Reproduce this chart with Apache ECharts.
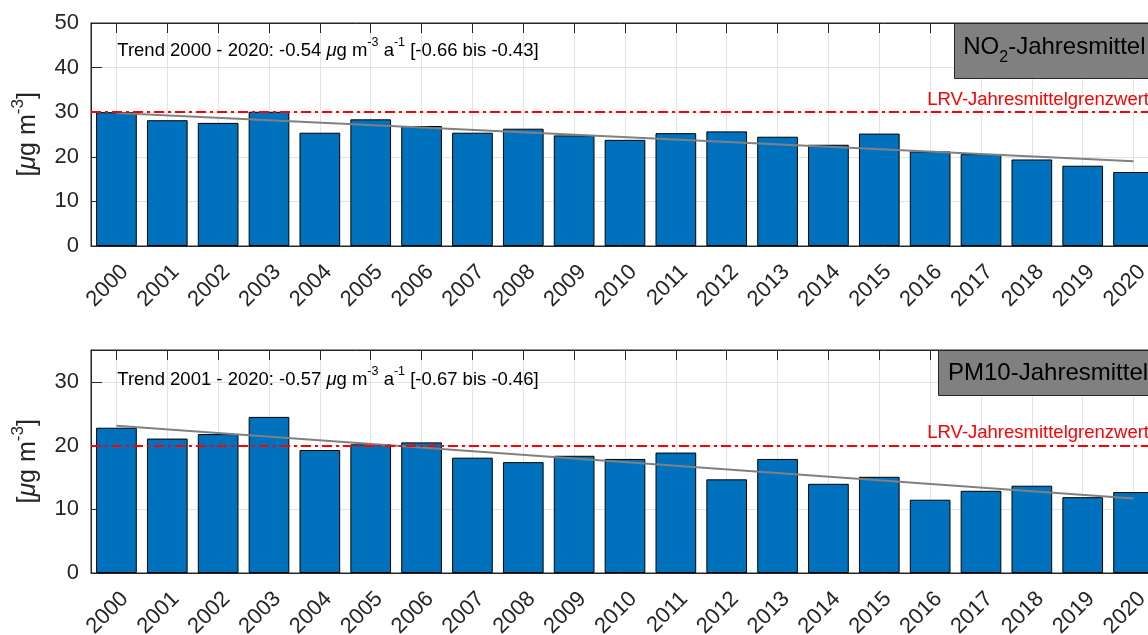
<!DOCTYPE html>
<html>
<head>
<meta charset="utf-8">
<script src="https://cdn.jsdelivr.net/npm/echarts@6/dist/echarts.min.js"></script>
<style>html,body{margin:0;padding:0;background:#fff}#c{width:1148px;height:635px}</style>
</head>
<body>
<div id="c"></div>
<script>
const years = ['2000','2001','2002','2003','2004','2005','2006','2007','2008','2009','2010','2011','2012','2013','2014','2015','2016','2017','2018','2019','2020'];
const no2Values = [30.0, 28.2, 27.6, 30.1, 25.4, 28.4, 26.9, 25.4, 26.3, 24.8, 23.8, 25.3, 25.7, 24.5, 22.7, 25.2, 21.2, 20.6, 19.4, 18.0, 16.6];
const pm10Values = [22.8, 21.1, 21.8, 24.5, 19.3, 20.2, 20.5, 18.1, 17.4, 18.4, 17.9, 18.9, 14.7, 17.9, 14.0, 15.1, 11.5, 12.9, 13.7, 11.9, 12.7];
const no2Trend = [['2000', 29.8], ['2020', 19.0]];
const pm10Trend = [['2000', 23.1], ['2020', 11.7]];
const no2Limit = 30;
const pm10Limit = 20;
const no2YTicks = {min: 0, max: 50, interval: 10};
const pm10YTicks = {min: 0, max: 35, interval: 10};
const limitLabel = 'LRV-Jahresmittelgrenzwert';
const no2TrendText = ['Trend 2000 - 2020: -0.54 ', ' [-0.66 bis -0.43]'];
const pm10TrendText = ['Trend 2001 - 2020: -0.57 ', ' [-0.67 bis -0.46]'];

const FONT = '"Liberation Sans", Arial, Helvetica, sans-serif';
const AX = '#262626';
const GRIDC = '#e3e3e3';

const chart = echarts.init(document.getElementById('c'), null, {renderer: 'canvas'});

const grids = [
  {left: 91, top: 23, width: 1068, height: 223},
  {left: 91, top: 350, width: 1068, height: 223}
];

function xAxes(gi) {
  return [
    {
      type: 'category', gridIndex: gi, data: years, position: 'bottom',
      boundaryGap: true,
      axisLine: {show: true, lineStyle: {color: AX, width: 1}},
      axisTick: {show: true, inside: true, length: 10, alignWithLabel: true, lineStyle: {color: AX}},
      axisLabel: {show: true, rotate: 45, interval: 0, margin: 31, padding: [0, -12, 0, 0],
        fontSize: 22, color: AX, fontFamily: FONT, hideOverlap: false},
      splitLine: {show: true, alignWithLabel: true, interval: 0, lineStyle: {color: GRIDC, width: 1}}
    },
    {
      type: 'category', gridIndex: gi, data: years, position: 'top',
      boundaryGap: true,
      axisLine: {show: true, lineStyle: {color: AX, width: 1}},
      axisTick: {show: true, inside: true, length: 10, alignWithLabel: true, lineStyle: {color: AX}},
      axisLabel: {show: false},
      splitLine: {show: false}
    }
  ];
}

function supName() {
  return '{sp| }{b|[}{i|\u03bc}{b|g m}{s|-3}{b|]}';
}

function yAxis(gi, t) {
  return {
    type: 'value', gridIndex: gi, min: t.min, max: t.max, interval: t.interval,
    axisLine: {show: true, lineStyle: {color: AX, width: 1}},
    axisTick: {show: true, inside: true, length: 11, lineStyle: {color: AX}},
    axisLabel: {fontSize: 22, color: AX, fontFamily: FONT, margin: 12, showMaxLabel: t.max % t.interval === 0},
    splitLine: {show: true, lineStyle: {color: GRIDC, width: 1}},
    name: supName(), nameLocation: 'middle', nameRotate: 90, nameGap: 50,
    nameTextStyle: {
      fontFamily: FONT, color: AX, fontSize: 25,
      rich: {
        sp: {fontSize: 1, lineHeight: 31},
        b: {fontSize: 25, lineHeight: 25, verticalAlign: 'bottom', color: AX, fontFamily: FONT},
        i: {fontSize: 25, lineHeight: 25, verticalAlign: 'bottom', fontStyle: 'italic', color: AX, fontFamily: FONT},
        s: {fontSize: 17, lineHeight: 17, verticalAlign: 'top', color: AX, fontFamily: FONT}
      }
    }
  };
}

function trendTitle(txt, top) {
  return {
    left: 117, top: top, padding: 0,
    text: '{sp| }{n|' + txt[0] + '}{i|\u03bc}{n|g m}{s|-3}{n| a}{s|-1}{n|' + txt[1] + '}',
    textStyle: {
      fontFamily: FONT, fontSize: 18.5, fontWeight: 'normal', color: '#000',
      rich: {
        sp: {fontSize: 1, lineHeight: 24},
        n: {fontSize: 18.5, lineHeight: 18, verticalAlign: 'bottom', color: '#000', fontFamily: FONT},
        i: {fontSize: 18.5, lineHeight: 18, verticalAlign: 'bottom', fontStyle: 'italic', color: '#000', fontFamily: FONT},
        s: {fontSize: 12.5, lineHeight: 12, verticalAlign: 'top', color: '#000', fontFamily: FONT}
      }
    }
  };
}

const richLegend = {
  sp: {fontSize: 1, lineHeight: 31},
  n: {fontSize: 24, lineHeight: 24, verticalAlign: 'top', color: '#000', fontFamily: FONT},
  sub: {fontSize: 16, lineHeight: 16, verticalAlign: 'bottom', color: '#000', fontFamily: FONT}
};

function limitMark(v) {
  return {
    silent: true, symbol: 'none', z: 10,
    lineStyle: {color: '#ff0000', width: 2, type: [10, 4, 3, 4]},
    label: {show: true, position: 'insideEndTop', formatter: limitLabel, color: '#ff0000',
      fontSize: 18.5, fontFamily: FONT, distance: [10, 3]},
    data: [{yAxis: v}]
  };
}

function barSeries(gi, data, limit) {
  return {
    type: 'bar', xAxisIndex: gi * 2, yAxisIndex: gi, data: data, barWidth: '80%',
    itemStyle: {color: '#0072BD', borderColor: '#000', borderWidth: 1},
    z: 2,
    markLine: limitMark(limit)
  };
}

function trendSeries(gi, data) {
  return {
    type: 'line', xAxisIndex: gi * 2, yAxisIndex: gi, data: data,
    symbol: 'none', lineStyle: {color: '#808080', width: 2}, z: 4, silent: true
  };
}

const option = {
  animation: false,
  backgroundColor: '#fff',
  grid: grids.map(g => Object.assign({show: true, borderColor: AX, borderWidth: 1, backgroundColor: 'transparent',
    containLabel: false, outerBoundsMode: 'none'}, g)),
  xAxis: xAxes(0).concat(xAxes(1)),
  yAxis: [yAxis(0, no2YTicks), yAxis(1, pm10YTicks)],
  title: [
    trendTitle(no2TrendText, 36),
    trendTitle(pm10TrendText, 365),
    {
      left: 954, top: 23, padding: [12, 60, 13, 9],
      backgroundColor: '#808080', borderColor: AX, borderWidth: 1,
      text: '{sp| }{n|NO}{sub|2}{n|-Jahresmittel}',
      textStyle: {fontFamily: FONT, fontSize: 24, fontWeight: 'normal', color: '#000', rich: richLegend}
    },
    {
      left: 938, top: 350, padding: [10, 60, 9, 10],
      backgroundColor: '#808080', borderColor: AX, borderWidth: 1,
      text: 'PM10-Jahresmittel',
      textStyle: {fontFamily: FONT, fontSize: 24, lineHeight: 27, fontWeight: 'normal', color: '#000'}
    }
  ],
  series: [
    barSeries(0, no2Values, no2Limit),
    trendSeries(0, no2Trend),
    barSeries(1, pm10Values, pm10Limit),
    trendSeries(1, pm10Trend)
  ]
};
chart.setOption(option);
</script>
</body>
</html>
